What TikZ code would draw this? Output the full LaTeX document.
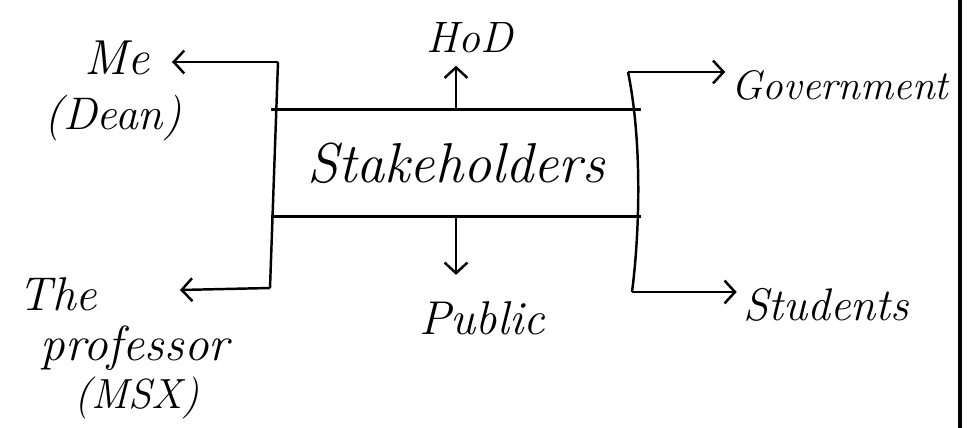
\documentclass[tikz,border=0pt]{standalone}
\usepackage{tikz}
\usetikzlibrary{arrows, arrows.meta}

\tikzset{
  lbl/.style={font=\itshape\fontsize{26}{31}\selectfont, inner sep=3pt},
  arm/.style={->, line width=1.4pt},
}

\begin{document}
\begin{tikzpicture}[x=0.02cm, y=-0.02cm, line width=1.4pt, >={Straight Barb[length=6pt,width=13pt]}]
        \useasboundingbox (0,0) rectangle (969,428);

        % Stakeholders and the two directions
        \node[lbl, font=\itshape\fontsize{32}{36}\selectfont, minimum width=7.36cm, minimum height=2.1cm] (stake) at (456,163) {Stakeholders};
        \node[lbl, font=\itshape\fontsize{25}{29}\selectfont] (hod) at (470,38) {HoD};
        \node[lbl, font=\itshape\fontsize{27}{31}\selectfont] (public) at (482,318) {Public};

        % Left side
        \node[lbl, font=\itshape\fontsize{28}{32}\selectfont] (me) at (117,58) {Me};
        \node[lbl] (dean) at (113,118) {(Dean)};
        \node[lbl, font=\itshape\fontsize{27}{31}\selectfont] (the) at (58,294) {The};
        \node[lbl, font=\itshape\fontsize{28}{32}\selectfont] (prof) at (135,348) {professor};
        \node[lbl, font=\itshape\fontsize{24}{28}\selectfont] (msx) at (137,398) {(MSX)};

        % Right side
        \node[lbl, font=\itshape\fontsize{23.5}{27}\selectfont] (gov) at (840,85) {Government};
        \node[lbl] (stud) at (826,305) {Students};

        % Bracket corners
        \coordinate (lt) at (278,62);
        \coordinate (lb) at (270,288);
        \coordinate (rt) at (628,72);
        \coordinate (rb) at (632,292);
        \coordinate (meend) at (172,62);
        \coordinate (profend) at (180,290);

        % Box lines
        \draw (stake.north west) -- (stake.north east);
        \draw (stake.south west) -- (stake.south east);

        % Brackets
        \draw (lt) -- (lb);
        \draw (rt) .. controls (642,140) and (640,230) .. (rb);

        % Messages
        \draw[arm] (stake.north) -- ([yshift=-0.12cm]stake.north |- hod.south);
        \draw[arm] (stake.south) -- ([yshift=0.4cm]stake.south |- public.north);
        \draw[arm] (lt) -- (meend);
        \draw[arm] (lb) -- (profend);
        \draw[arm] (rt) -- (rt -| gov.west);
        \draw[arm] (rb) -- (rb -| stud.west);

        % Page edge
        \draw[line width=2.6pt] (960,0) -- (960,428);
\end{tikzpicture}
\end{document}
